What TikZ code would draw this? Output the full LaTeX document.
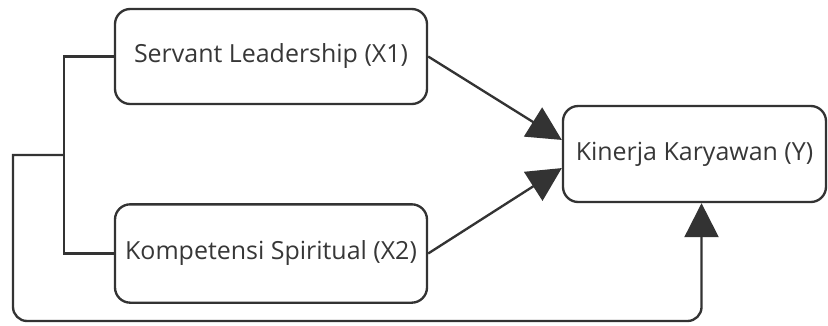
\documentclass[tikz,border=0pt]{standalone}
\usepackage{fontspec}
\setmainfont{Open Sans}
\definecolor{linegray}{RGB}{51, 51, 51}
\definecolor{textgray}{RGB}{55, 55, 55}
\usetikzlibrary{arrows.meta, positioning}
\tikzset{
    varbox/.style={
        rectangle,
        draw=linegray,
        line width=2pt,
        rounded corners=13pt,
        align=center,
        text=textgray,
        font=\fontsize{21.3}{25}\selectfont
    },
    linkstyle/.style={line width=2pt, color=linegray},
    arrowstyle/.style={linkstyle, -{Triangle[length=29pt, width=29pt]}}
}

\begin{document}
\begin{tikzpicture}[x=0.03cm, y=-0.03cm]
      \useasboundingbox (0,0) rectangle (828,325);
      \node[varbox, minimum width=9.36cm, minimum height=2.85cm] (x1) at (271,56.5) {Servant Leadership (X1)};
      \node[varbox, minimum width=9.36cm, minimum height=2.95cm] (x2) at (271,253.5) {Kompetensi Spiritual (X2)};
      \node[varbox, minimum width=7.89cm, minimum height=2.88cm] (y) at (694.5,154) {Kinerja Karyawan (Y)};
      \coordinate (jn) at (64,155);

      \draw[arrowstyle] (x1.east) -- ([yshift=12pt]y.west);
      \draw[arrowstyle] (x2.east) -- ([yshift=-12pt]y.west);
      \draw[linkstyle] (x1.west) -| (jn) |- (x2.west);
      \draw[arrowstyle] (jn) -- (13,155) [rounded corners=12pt] -- (13,321) -| ([xshift=6pt]y.south);
    \end{tikzpicture}
\end{document}
